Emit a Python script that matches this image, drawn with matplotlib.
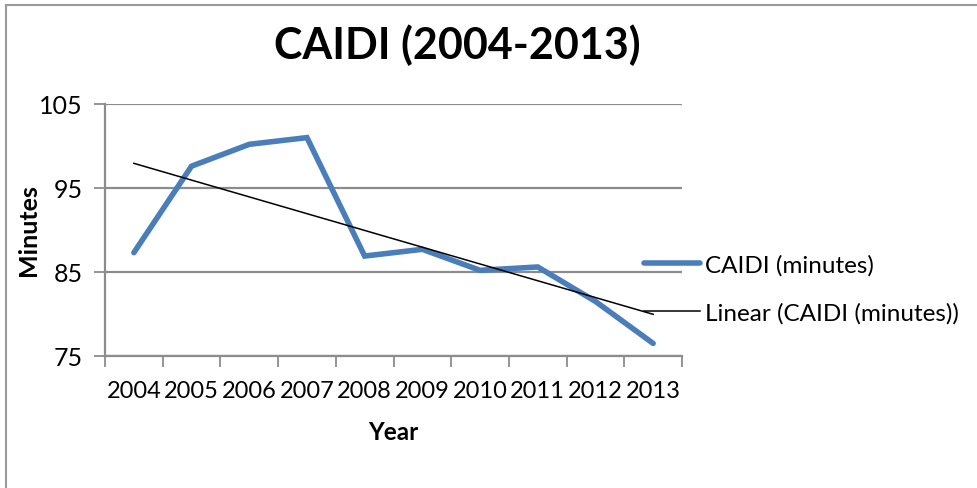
import numpy as np
import matplotlib
matplotlib.use("Agg")
import matplotlib.pyplot as plt
from matplotlib.lines import Line2D

plt.rcParams['font.family'] = ['Lato', 'DejaVu Sans']

years = ['2004', '2005', '2006', '2007', '2008', '2009', '2010', '2011', '2012', '2013']
caidi = [87.3, 97.6, 100.2, 101.0, 86.9, 87.7, 85.2, 85.6, 81.5, 76.5]

W, H = 977, 489
fig = plt.figure(figsize=(W / 100, H / 100), dpi=100)
ax = fig.add_axes([105 / W, 132 / H, (682 - 105) / W, (357 - 105) / H])

x = np.arange(len(years))
y = np.array(caidi)

# least squares trend, as a spreadsheet would add it
slope, icpt = np.polyfit(x, y, 1)
trend = slope * x + icpt

ax.plot(x, y, color='#4a7ebb', lw=4.0, solid_joinstyle='miter',
        solid_capstyle='round', label='CAIDI (minutes)', zorder=3)
ax.plot(x, trend, color='black', lw=1.1, label='Linear (CAIDI (minutes))', zorder=4)

ax.set_xlim(-0.5, len(years) - 0.5)
ax.set_ylim(75, 105)
ax.set_yticks([75, 85, 95, 105])
ax.yaxis.grid(True, color='#8c8c8c', lw=1.6)
ax.set_axisbelow(True)

ax.set_xticks(x)
ax.set_xticklabels(years)
ax.set_xticks(np.arange(-0.5, len(years)), minor=True)
ax.tick_params(axis='x', which='major', length=0, pad=17, labelsize=17)
ax.tick_params(axis='x', which='minor', length=8, width=1.3, color='#8c8c8c')
ax.tick_params(axis='y', length=8, width=1.3, color='#8c8c8c', pad=8, labelsize=18)

for s in ('top', 'right'):
    ax.spines[s].set_visible(False)
for s in ('left', 'bottom'):
    ax.spines[s].set_color('#8c8c8c')
    ax.spines[s].set_linewidth(1.6)

fig.text(393 / W, 1 - 433 / H, 'Year', fontsize=17.5, fontweight='bold',
         ha='center', va='center')
fig.text(28 / W, 1 - 230 / H, 'Minutes', fontsize=18, fontweight='bold',
         ha='center', va='center', rotation=90)
fig.text(457 / W, 1 - 45 / H, 'CAIDI (2004-2013)', fontsize=31, fontweight='bold',
         ha='center', va='center')

fig.legend(loc='center left', bbox_to_anchor=(622 / W, 1 - 290 / H), frameon=False,
           fontsize=17.5, handlelength=2.3, handletextpad=0.2, labelspacing=1.1)

# chart frame (only left and top edges show)
fig.add_artist(Line2D([5.5 / W, 5.5 / W], [0, 1 - 6 / H], color='#9a9a9a', lw=1.5))
fig.add_artist(Line2D([5.5 / W, 1], [1 - 6 / H, 1 - 6 / H], color='#9a9a9a', lw=1.5))

fig.savefig('out.png', dpi=100)
